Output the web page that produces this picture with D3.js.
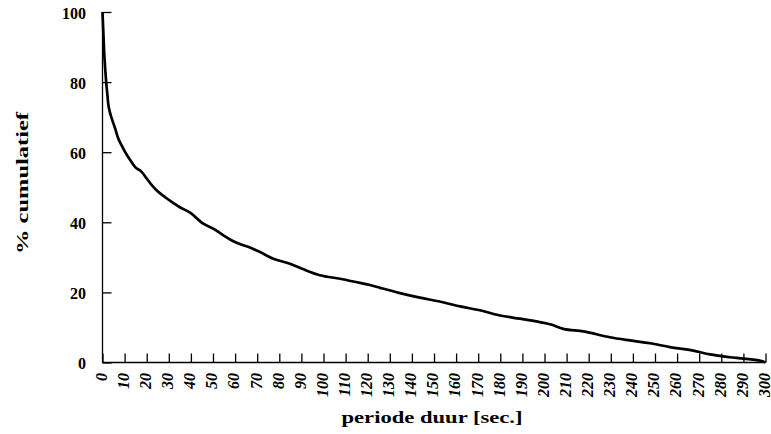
<!DOCTYPE html>
<html>
<head>
<meta charset="utf-8">
<script src="https://cdn.jsdelivr.net/npm/d3@7"></script>
<style>
  html, body { margin: 0; padding: 0; background: #fff; }
  svg { display: block; }
</style>
</head>
<body>
<svg id="chart" width="771" height="434"></svg>
<script>
// Duration (sec) and cumulative percentage
const durations = [0, 0.4, 0.8, 1.2, 1.6, 2.2, 2.6, 3.3, 4.2, 5.7, 7.1, 8.6, 10.2, 12.9, 14.7, 17.7, 20, 22.3, 25.2, 28.3, 31.3, 35, 39.8, 45.6, 50.1, 54.7, 59.2, 63, 66.7, 71.3, 77.3, 84.8, 90.9, 98.4, 107.5, 116.5, 121, 125.6, 134.6, 143.6, 152.6, 161.8, 170.8, 179.9, 188.9, 197.9, 202.5, 208.5, 217.6, 229.6, 238.7, 247.7, 256.8, 267.3, 274.9, 283.9, 290, 299, 300];
const cumulative = [100, 94, 88, 84, 80.5, 76.5, 73.8, 71.5, 69.6, 66.8, 64, 62, 60.1, 57.4, 55.8, 54.4, 52.5, 50.6, 48.7, 47.2, 45.8, 44.3, 42.7, 39.6, 38.2, 36.3, 34.6, 33.6, 32.8, 31.5, 29.6, 28.2, 26.6, 24.9, 23.9, 22.7, 22.1, 21.3, 19.8, 18.5, 17.4, 16, 14.9, 13.4, 12.5, 11.5, 10.9, 9.6, 8.9, 7.2, 6.3, 5.5, 4.4, 3.4, 2.3, 1.5, 1.1, 0.3, 0];
const xTicks = d3.range(0, 301, 10);
const yTicks = [0, 20, 40, 60, 80, 100];
const xTitle = "periode duur [sec.]";
const yTitle = "% cumulatief";

const FONT = '"Times New Roman", "Liberation Serif", Times, serif';
const svg = d3.select("#chart");
const x = d3.scaleLinear().domain([0, 300]).range([102.5, 765.5]);
const y = d3.scaleLinear().domain([0, 100]).range([362.5, 12]);

// Y axis
const yAxis = d3.axisRight(y).tickValues(yTicks).tickSize(9).tickFormat("");
const gy = svg.append("g").attr("transform", `translate(${x(0)},0)`).call(yAxis);
gy.select(".domain").attr("stroke", "#000").attr("stroke-width", 1.3).attr("d", `M0,${y(100)}V${y(0)}`);
gy.selectAll(".tick line").attr("stroke", "#000").attr("stroke-width", 1.3);

svg.append("g").selectAll("text").data(yTicks).join("text")
  .attr("x", 86).attr("y", d => y(d)).attr("dy", "0.42em")
  .attr("text-anchor", "end")
  .attr("font-family", FONT)
  .style("font-size", "16px").style("font-weight", "bold")
  .text(d => d);

// X axis
const xAxis = d3.axisTop(x).tickValues(xTicks).tickSize(9).tickFormat("");
const gx = svg.append("g").attr("transform", `translate(0,${y(0)})`).call(xAxis);
gx.select(".domain").attr("stroke", "#000").attr("stroke-width", 1.3).attr("d", `M${x(0)},0H${x(300)}`);
gx.selectAll(".tick line").attr("stroke", "#000").attr("stroke-width", 1.3);

svg.append("g").selectAll("text").data(xTicks).join("text")
  .attr("transform", d => `translate(${x(d)},373) rotate(-90)`)
  .attr("dy", "0.27em")
  .attr("text-anchor", "end")
  .attr("font-family", FONT)
  .style("font-size", "16px").style("font-weight", "bold").style("font-style", "italic")
  .text(d => d);

// Curve
const pts = durations.map((d, i) => [d, cumulative[i]]);
svg.append("path").datum(pts)
  .attr("fill", "none").attr("stroke", "#000").attr("stroke-width", 2.7)
  .attr("stroke-linejoin", "round")
  .attr("d", d3.line().curve(d3.curveMonotoneX).x(d => x(d[0])).y(d => y(d[1])));

// Titles
svg.append("text")
  .attr("x", 432).attr("y", 423)
  .attr("text-anchor", "middle")
  .attr("font-family", FONT)
  .attr("textLength", 181).attr("lengthAdjust", "spacingAndGlyphs")
  .style("font-size", "17px").style("font-weight", "bold")
  .text(xTitle);

svg.append("text")
  .attr("transform", "translate(28,183) rotate(-90)")
  .attr("text-anchor", "middle")
  .attr("font-family", FONT)
  .attr("textLength", 142).attr("lengthAdjust", "spacingAndGlyphs")
  .style("font-size", "17px").style("font-weight", "bold")
  .text(yTitle);
</script>
</body>
</html>
